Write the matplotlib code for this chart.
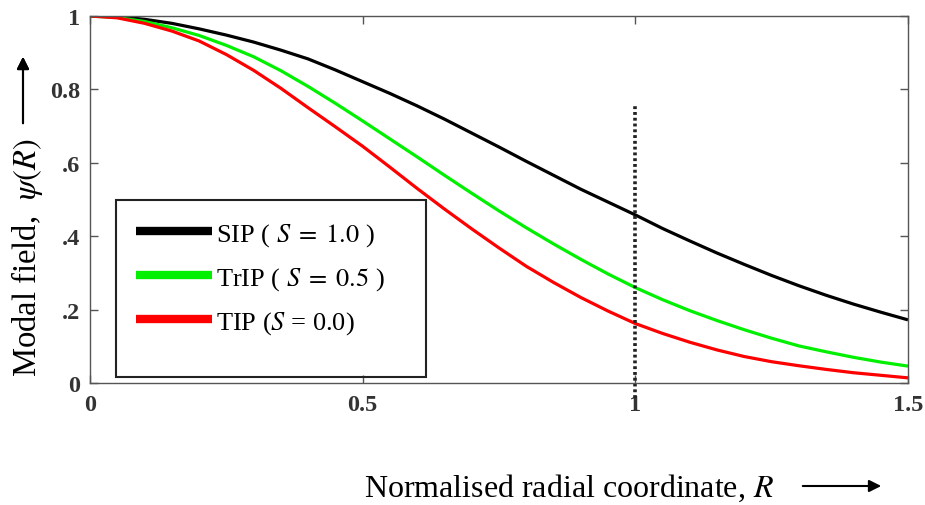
import matplotlib
matplotlib.use("Agg")
import matplotlib.pyplot as plt
from matplotlib.patches import Rectangle

plt.rcParams['font.family'] = ['Liberation Serif', 'DejaVu Serif']
plt.rcParams['mathtext.fontset'] = 'stix'

R = [0.00, 0.05, 0.10, 0.15, 0.20, 0.25, 0.30, 0.35, 0.40, 0.45, 0.50,
     0.55, 0.60, 0.65, 0.70, 0.75, 0.80, 0.85, 0.90, 0.95, 1.00,
     1.05, 1.10, 1.15, 1.20, 1.25, 1.30, 1.35, 1.40, 1.45, 1.50]

sip = [1.000, 0.998, 0.991, 0.980, 0.965, 0.948, 0.929, 0.907, 0.883, 0.853, 0.821,
       0.789, 0.755, 0.719, 0.681, 0.643, 0.604, 0.566, 0.528, 0.493, 0.458,
       0.421, 0.387, 0.354, 0.323, 0.293, 0.265, 0.239, 0.215, 0.193, 0.172]

trip = [1.000, 0.996, 0.985, 0.968, 0.947, 0.920, 0.889, 0.851, 0.808, 0.762, 0.714,
        0.665, 0.616, 0.566, 0.517, 0.469, 0.423, 0.379, 0.337, 0.297, 0.260,
        0.227, 0.197, 0.170, 0.145, 0.122, 0.101, 0.085, 0.070, 0.057, 0.046]

tip = [1.000, 0.995, 0.980, 0.959, 0.932, 0.895, 0.852, 0.803, 0.750, 0.698, 0.645,
       0.588, 0.530, 0.474, 0.420, 0.368, 0.318, 0.274, 0.233, 0.196, 0.162,
       0.135, 0.111, 0.090, 0.072, 0.058, 0.047, 0.037, 0.028, 0.021, 0.014]

labels = [r'SIP ( $S\;=\;1.0$ )', r'TrIP ( $S\;=\;0.5$ )', r'TIP ($S$ = 0.0)']
colors = ['#000000', '#00f000', '#ff0000']

xticks = [0, 0.5, 1, 1.5]
xticklabels = ['0', '0.5', '1', '1.5']
yticks = [0, 0.2, 0.4, 0.6, 0.8, 1.0]
yticklabels = ['0', '.2', '.4', '.6', '0.8', '1']

cutoff_R = 1.0
cutoff_top = 0.76

fig = plt.figure(figsize=(9.25, 5.06), dpi=100)
ax = fig.add_axes([90/925, 1-384/506, (908-90)/925, (384-17)/506])

lines = []
for y, c, lab in zip([sip, trip, tip], colors, labels):
    l, = ax.plot(R, y, color=c, lw=2.3, label=lab, solid_capstyle='butt')
    lines.append(l)

ax.plot([cutoff_R, cutoff_R], [-0.04, cutoff_top], color='#222222', lw=2.6,
        linestyle=(0, (0.8, 0.8)), clip_on=False)

ax.set_xlim(0, 1.5)
ax.set_ylim(0, 1.0)
ax.set_xticks(xticks)
ax.set_xticklabels(xticklabels)
ax.set_yticks(yticks)
ax.set_yticklabels(yticklabels)
ax.tick_params(direction='in', length=6, width=1, color='#555555',
               top=True, right=True, labelsize=17.5)
ax.tick_params(axis='x', pad=8)
ax.tick_params(axis='y', pad=7)
for t in ax.get_xticklabels() + ax.get_yticklabels():
    t.set_fontweight('bold')
    t.set_color('#333333')
for s in ax.spines.values():
    s.set_color('#555555')
    s.set_linewidth(1.0)

# legend
leg = ax.legend(handles=lines, loc='upper left', bbox_to_anchor=(0.04, 0.478),
                frameon=False, fontsize=19, handlelength=2.9, handletextpad=0.15,
                labelspacing=0.66, borderpad=0.0)
for lh in leg.get_lines():
    lh.set_linewidth(6)
ax.add_patch(Rectangle((26/818, 6/367), (426-116)/818, (378-201)/367,
                       transform=ax.transAxes, fill=False, ec='#222222', lw=1.5,
                       zorder=5))

# y label with arrow
fig.text(27/925, 1-258/506, r'Modal field,  $\psi(R)$', rotation=90,
         ha='center', va='center', fontsize=23.5)
fig.add_artist(plt.annotate('', xy=(23/925, 1-55/506), xytext=(23/925, 1-127/506),
                            xycoords='figure fraction', textcoords='figure fraction',
                            arrowprops=dict(arrowstyle='-|>', color='black', lw=1.5,
                                            mutation_scale=18)))

# x label with arrow
fig.text(569/925, 1-488/506, r'Normalised radial coordinate, $R$',
         ha='center', va='center', fontsize=23)
ax.annotate('', xy=(884/925, 1-487/506), xytext=(800/925, 1-487/506),
            xycoords='figure fraction', textcoords='figure fraction',
            arrowprops=dict(arrowstyle='-|>', color='black', lw=1.5,
                            mutation_scale=18))

fig.savefig('out.png', dpi=100)
